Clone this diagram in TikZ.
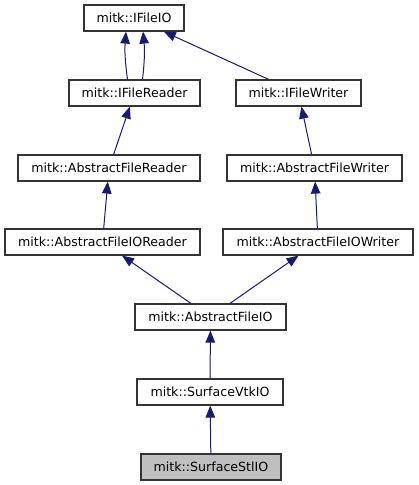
\documentclass[tikz,border=0pt]{standalone}
\usepackage{fontspec}
\setmainfont{DejaVu Sans}
\usetikzlibrary{arrows.meta}
\definecolor{edgeblue}{HTML}{191970}
\definecolor{boxgray}{HTML}{333333}
\definecolor{hilite}{HTML}{BFBFBF}
\tikzset{
  cls/.style={draw=boxgray, line width=1.2pt, fill=white, inner sep=0pt,
    minimum height=26pt, font=\fontsize{12.6}{14}\selectfont},
  inh/.style={draw=edgeblue, line width=1pt,
    -{Triangle[width=9.5pt,length=12pt]}},
}
\begin{document}
\begin{tikzpicture}[x=1pt,y=-1pt]
  \useasboundingbox (0,0) rectangle (419,485);
  \node[cls, minimum width=100pt] (ifileio) at (134,18) {mitk::IFileIO};
  \node[cls, minimum width=131pt] (ifilereader) at (134.5,93) {mitk::IFileReader};
  \node[cls, minimum width=125pt] (ifilewriter) at (298.5,93) {mitk::IFileWriter};
  \node[cls, minimum width=182pt] (afreader) at (109,168) {mitk::AbstractFileReader};
  \node[cls, minimum width=175pt] (afwriter) at (314.5,168) {mitk::AbstractFileWriter};
  \node[cls, minimum width=195pt] (afioreader) at (102.5,242) {mitk::AbstractFileIOReader};
  \node[cls, minimum width=190pt] (afiowriter) at (318,242) {mitk::AbstractFileIOWriter};
  \node[cls, minimum width=151pt] (afio) at (210.5,317) {mitk::AbstractFileIO};
  \node[cls, minimum width=146pt] (vtkio) at (210,392) {mitk::SurfaceVtkIO};
  \node[cls, minimum width=140pt, fill=hilite] (stlio) at (211,467) {mitk::SurfaceStlIO};

  \draw[inh] ([xshift=-7pt]ifilereader.north) to[bend left=6] ([xshift=-8pt]ifileio.south);
  \draw[inh] ([xshift=8pt]ifilereader.north) to[bend right=6] ([xshift=9pt]ifileio.south);
  \draw[inh] (ifilewriter) -- (ifileio);
  \draw[inh] (afreader) -- (ifilereader);
  \draw[inh] (afwriter) -- (ifilewriter);
  \draw[inh] (afioreader) -- (afreader);
  \draw[inh] (afiowriter) -- (afwriter);
  \draw[inh] (afio) -- (afioreader);
  \draw[inh] (afio) -- (afiowriter);
  \draw[inh] (vtkio) -- (afio);
  \draw[inh] (stlio) -- (vtkio);
\end{tikzpicture}
\end{document}
